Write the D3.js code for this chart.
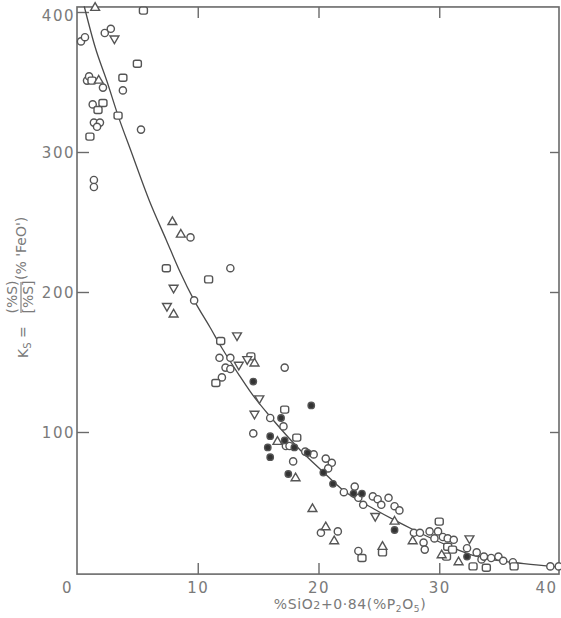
<!DOCTYPE html>
<html>
<head>
<meta charset="utf-8">
<script src="https://cdn.jsdelivr.net/npm/d3@7"></script>
<style>
  body { margin: 0; background: #fff; }
  svg { display: block; }
  text { font-family: "DejaVu Sans", sans-serif; fill: #7a7a7a; }
</style>
</head>
<body>
<div id="chart"></div>
<script>
// axis ticks
const xTicks = [0, 10, 20, 30, 40];
const yTicks = [100, 200, 300, 400];

// fitted curve
const curveX = [0.6, 1.5, 2.5, 3.4, 4.5, 6, 7.4, 8.5, 9.7, 11, 12, 13.4, 14.5, 16.1, 18.5, 20.2, 22.1, 24.6, 26.3, 27.9, 30.4, 32.4, 34.3, 37, 40];
const curveY = [404, 375, 350, 326, 300, 265, 237, 215, 194, 175, 160, 141, 127, 110, 87, 73, 58, 45, 37, 30, 20, 13, 9, 6, 3.5];

// experimental points, one array per marker
const openCircles = [
  [0.33, 379], [0.66, 382], [2.3, 385], [2.8, 388], [0.83, 351], [1.0, 354], [2.15, 346], [3.8, 344],
  [1.3, 334], [1.4, 321], [1.9, 321], [1.66, 318], [5.3, 316], [1.4, 280], [1.4, 275], [9.4, 239],
  [12.7, 217], [9.7, 194], [11.8, 153], [12.7, 153], [12.3, 146], [12.7, 145], [17.2, 146], [12.0, 139],
  [16.0, 110], [17.1, 104], [14.6, 99], [17.3, 90], [17.6, 90], [18.9, 86], [19.6, 84], [20.6, 81],
  [21.1, 78], [20.8, 74], [17.9, 79], [22.1, 57], [23.0, 61], [23.3, 53], [23.7, 48], [24.5, 54],
  [24.9, 52], [25.2, 48], [25.8, 53], [26.3, 47], [26.7, 44], [20.2, 28], [21.6, 29], [23.3, 15],
  [27.9, 28], [28.4, 28], [28.7, 21], [28.8, 16], [29.2, 29], [29.9, 29], [29.6, 24], [30.3, 25],
  [30.7, 24], [31.2, 23], [32.3, 17], [33.1, 14], [33.5, 9], [33.7, 11], [34.3, 10], [34.9, 11],
  [35.3, 8], [36.1, 7], [39.2, 4], [39.9, 4]
];
const openSquares = [
  [5.5, 401], [5.0, 363], [1.24, 351], [3.8, 353], [2.15, 335], [1.74, 330], [3.4, 326], [1.07, 311],
  [7.4, 217], [10.9, 209], [11.9, 165], [14.4, 154], [11.5, 135], [17.2, 116], [18.2, 96], [23.6, 10],
  [30.0, 36], [30.7, 18], [31.1, 16], [30.6, 11], [32.8, 4], [33.9, 3], [36.2, 4], [25.3, 14]
];
const trianglesUp = [
  [1.5, 403], [1.8, 351], [7.9, 250], [8.6, 241], [8.0, 184], [14.7, 149], [16.6, 93], [18.1, 67],
  [26.3, 36], [19.5, 45], [20.6, 32], [21.3, 22], [25.3, 18], [27.8, 22], [30.2, 12], [31.6, 7]
];
const trianglesDown = [
  [3.1, 381], [8.0, 203], [7.45, 190], [13.25, 169], [14.1, 152], [13.4, 148], [15.1, 124], [14.7, 113],
  [24.7, 40], [32.5, 24]
];
const filledCircles = [
  [14.6, 136], [19.4, 119], [16.9, 110], [16.0, 97], [17.2, 94], [18.0, 89], [15.8, 89], [16.0, 82],
  [19.1, 85], [20.4, 71], [17.5, 70], [21.2, 63], [22.9, 56], [23.6, 56], [26.3, 30], [32.3, 11]
];

const width = 561, height = 618;
const svg = d3.select("#chart").append("svg")
  .attr("width", width)
  .attr("height", height);

const x = d3.scaleLinear().domain([0, 40]).range([77, 560]);
const y = d3.scaleLinear().domain([0, 400]).range([572, 12]);

const fLeft = x(0), fRight = x(40) - 1, fTop = y(403.6), fBottom = y(-1.5);
const ink = "#555";

// frame
svg.append("rect")
  .attr("x", fLeft).attr("y", fTop)
  .attr("width", fRight - fLeft).attr("height", fBottom - fTop)
  .attr("fill", "none").attr("stroke", "#6a6a6a").attr("stroke-width", 1.6);

// axes: ticks point inward
const axB = svg.append("g").attr("transform", `translate(0,${fBottom})`)
  .call(d3.axisBottom(x).tickValues(xTicks).tickSizeInner(-11).tickSizeOuter(0).tickPadding(5).tickFormat(d3.format("d")));
const axT = svg.append("g").attr("transform", `translate(0,${fTop})`)
  .call(d3.axisTop(x).tickValues([10, 20, 30]).tickSizeInner(-11).tickSizeOuter(0).tickFormat(""));
const axL = svg.append("g").attr("transform", `translate(${fLeft},0)`)
  .call(d3.axisLeft(y).tickValues(yTicks).tickSizeInner(-12).tickSizeOuter(0).tickPadding(2).tickFormat(d3.format("d")));
const axR = svg.append("g").attr("transform", `translate(${fRight},0)`)
  .call(d3.axisRight(y).tickValues([100, 200, 300]).tickSizeInner(-9).tickSizeOuter(0).tickFormat(""));

[axB, axT, axL, axR].forEach(g => {
  g.select(".domain").remove();
  g.selectAll(".tick line").attr("stroke", "#6a6a6a").attr("stroke-width", 1.4);
  g.selectAll(".tick text")
    .style("font-family", "DejaVu Sans, sans-serif")
    .attr("fill", "#808080")
    .attr("font-size", 15)
    .attr("letter-spacing", 1.5);
});
axB.selectAll(".tick line").filter(d => d === 0 || d === 40).remove();
axB.selectAll(".tick text").attr("dy", "0.95em")
  .attr("dx", d => d === 0 ? -10 : d === 40 ? -14 : 0);
axL.selectAll(".tick text").attr("dy", d => d === 400 ? "0.55em" : "0.35em");

// curve
const curvePts = curveX.map((v, i) => [v, curveY[i]]);
svg.append("path")
  .datum(curvePts)
  .attr("fill", "none")
  .attr("stroke", "#4a4a4a")
  .attr("stroke-width", 1.3)
  .attr("d", d3.line().x(d => x(d[0])).y(d => y(d[1])).curve(d3.curveMonotoneX));

const marks = svg.append("g").attr("stroke", ink).attr("stroke-width", 1.4);

marks.selectAll(".oc").data(openCircles).enter().append("circle")
  .attr("cx", d => x(d[0])).attr("cy", d => y(d[1])).attr("r", 3.6).attr("fill", "#fff");

marks.selectAll(".sq").data(openSquares).enter().append("rect")
  .attr("x", d => x(d[0]) - 4).attr("y", d => y(d[1]) - 3.5)
  .attr("width", 8).attr("height", 7).attr("rx", 2).attr("fill", "#fff");

const tri = d3.symbol().type(d3.symbolTriangle).size(34);
marks.selectAll(".tu").data(trianglesUp).enter().append("path")
  .attr("d", tri).attr("fill", "#fff")
  .attr("transform", d => `translate(${x(d[0])},${y(d[1])})`);
marks.selectAll(".td").data(trianglesDown).enter().append("path")
  .attr("d", tri).attr("fill", "#fff")
  .attr("transform", d => `translate(${x(d[0])},${y(d[1])}) rotate(180)`);

marks.selectAll(".fc").data(filledCircles).enter().append("circle")
  .attr("cx", d => x(d[0])).attr("cy", d => y(d[1])).attr("r", 3.2).attr("fill", "#333");

// x title
const xt = svg.append("text")
  .attr("x", 350).attr("y", 609)
  .attr("text-anchor", "middle")
  .attr("font-size", 14)
  .attr("letter-spacing", 0.6);
xt.append("tspan").text("%SiO");
xt.append("tspan").attr("font-size", 11).text("2");
xt.append("tspan").text("+0·84(%P");
xt.append("tspan").attr("font-size", 9).attr("dy", 3).text("2");
xt.append("tspan").attr("dy", -3).text("O");
xt.append("tspan").attr("font-size", 9).attr("dy", 3).text("5");
xt.append("tspan").attr("dy", -3).text(")");

// y title, rotated; local x = -screenY, local y = screenX
const yt = svg.append("g").attr("transform", "rotate(-90)").attr("font-size", 14);
const ks = yt.append("text").attr("x", -358).attr("y", 28);
ks.append("tspan").text("K");
ks.append("tspan").attr("font-size", 10).attr("dy", 3).text("S");
ks.append("tspan").attr("dy", -3).text(" =");
yt.append("text").attr("x", -297).attr("y", 17).attr("text-anchor", "middle").text("(%S)");
yt.append("line").attr("x1", -313).attr("x2", -282).attr("y1", 21).attr("y2", 21)
  .attr("stroke", "#7a7a7a").attr("stroke-width", 1.1);
yt.append("text").attr("x", -297).attr("y", 33).attr("text-anchor", "middle").text("[%S]");
yt.append("text").attr("x", -280).attr("y", 26).text("(% 'FeO')");
</script>
</body>
</html>
